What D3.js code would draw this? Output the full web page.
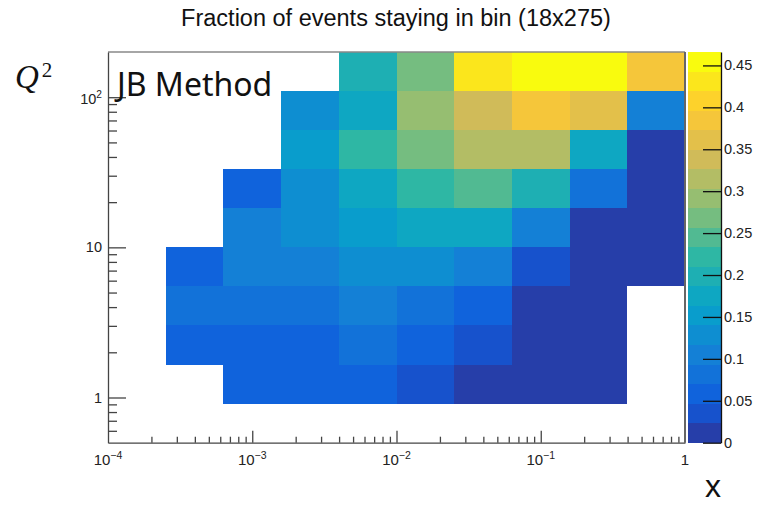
<!DOCTYPE html>
<html>
<head>
<meta charset="utf-8">
<script src="https://cdn.jsdelivr.net/npm/d3@7"></script>
<style>
  body { margin: 0; background: #fff; }
  svg { display: block; }
</style>
</head>
<body>
<svg id="chart" width="757" height="505"></svg>
<script>
// bin edges (10 log bins on each axis)
const xEdges = [1e-4, 2.512e-4, 6.31e-4, 1.585e-3, 3.981e-3, 1e-2, 2.512e-2, 6.31e-2, 0.1585, 0.3981, 1];
const yEdges = [0.5, 0.9103, 1.657, 3.017, 5.493, 10, 18.2, 33.14, 60.34, 109.8, 200];

// fraction per bin, one array per Q2 row (bottom row first), null = empty bin
const row0 = [null, null, null, null, null, null, null, null, null, null];
const row1 = [null, null, 0.06, 0.06, 0.06, 0.035, 0.01, 0.01, 0.01, null];
const row2 = [null, 0.06, 0.06, 0.06, 0.08, 0.06, 0.035, 0.01, 0.01, null];
const row3 = [null, 0.08, 0.08, 0.08, 0.105, 0.08, 0.06, 0.01, 0.01, null];
const row4 = [null, 0.06, 0.105, 0.105, 0.13, 0.13, 0.105, 0.035, 0.01, 0.01];
const row5 = [null, null, 0.105, 0.13, 0.15, 0.175, 0.175, 0.105, 0.01, 0.01];
const row6 = [null, null, 0.06, 0.13, 0.175, 0.22, 0.245, 0.2, 0.08, 0.01];
const row7 = [null, null, null, 0.15, 0.22, 0.27, 0.315, 0.315, 0.175, 0.01];
const row8 = [null, null, null, 0.13, 0.175, 0.29, 0.34, 0.385, 0.36, 0.105];
const row9 = [null, null, null, null, 0.2, 0.27, 0.43, 0.455, 0.455, 0.385];
const rows = [row0, row1, row2, row3, row4, row5, row6, row7, row8, row9];

const xTicks = [1e-4, 1e-3, 1e-2, 1e-1, 1];
const xTickLabels = ["10^{-4}", "10^{-3}", "10^{-2}", "10^{-1}", "1"];
const yTicks = [1, 10, 100];
const yTickLabels = ["1", "10", "10^{2}"];
const zTicks = [0, 0.05, 0.1, 0.15, 0.2, 0.25, 0.3, 0.35, 0.4, 0.45];
const zTickLabels = ["0", "0.05", "0.1", "0.15", "0.2", "0.25", "0.3", "0.35", "0.4", "0.45"];
const zMax = 0.466;
const nLevels = 20;

const title = "Fraction of events staying in bin (18x275)";

// ROOT kBird palette
const birdStops = [0, 0.125, 0.25, 0.375, 0.5, 0.625, 0.75, 0.875, 1];
const birdR = [0.2082, 0.0592, 0.0780, 0.0232, 0.1802, 0.5301, 0.8186, 0.9956, 0.9764];
const birdG = [0.1664, 0.3599, 0.5041, 0.6419, 0.7178, 0.7492, 0.7328, 0.7862, 0.9832];
const birdB = [0.5293, 0.8684, 0.8385, 0.7914, 0.6425, 0.4662, 0.3499, 0.1968, 0.0539];
const bird = d3.scaleLinear()
  .domain(birdStops)
  .range(birdStops.map((s, i) => d3.rgb(birdR[i] * 255, birdG[i] * 255, birdB[i] * 255)))
  .interpolate(d3.interpolateRgb);
const levelOf = v => Math.min(nLevels - 1, Math.floor(v / zMax * nLevels));
const levelColor = l => bird((l + 0.99) / nLevels);

const L = 108, R = 685, T = 52, B = 442.7;
const x = d3.scaleLog().domain([1e-4, 1]).range([L, R]);
const y = d3.scaleLog().domain([0.5, 200]).range([B, T]);
const z = d3.scaleLinear().domain([0, zMax]).range([B, T]);

const svg = d3.select("#chart");
const font = "'Liberation Sans', Arial, Helvetica, sans-serif";

// cells
const cells = [];
rows.forEach((r, j) => r.forEach((v, i) => { if (v != null) cells.push({ i, j, v }); }));
svg.append("g")
  .attr("shape-rendering", "crispEdges")
  .selectAll("rect")
  .data(cells)
  .join("rect")
    .attr("x", d => x(xEdges[d.i]))
    .attr("y", d => y(yEdges[d.j + 1]))
    .attr("width", d => x(xEdges[d.i + 1]) - x(xEdges[d.i]))
    .attr("height", d => y(yEdges[d.j]) - y(yEdges[d.j + 1]))
    .attr("fill", d => levelColor(levelOf(d.v)));

// frame
svg.append("line").attr("x1", L).attr("x2", R).attr("y1", T).attr("y2", T)
  .attr("stroke", "#888").attr("stroke-width", 1.5);
svg.append("line").attr("x1", R).attr("x2", R).attr("y1", T).attr("y2", B)
  .attr("stroke", "#666").attr("stroke-width", 2);

// minor ticks
const minors = (lo, hi) => {
  const out = [];
  for (let e = Math.floor(Math.log10(lo)) - 1; e <= Math.ceil(Math.log10(hi)); e++)
    for (let k = 2; k <= 9; k++) {
      const v = k * Math.pow(10, e);
      if (v > lo * 1.0001 && v < hi * 0.9999) out.push(v);
    }
  return out;
};

const axStyle = g => {
  g.selectAll("path, line").attr("stroke", "#444").attr("stroke-width", 1.3);
  g.selectAll("text").remove();
};

svg.append("g").attr("transform", `translate(0,${B})`)
  .call(d3.axisTop(x).tickValues(minors(1e-4, 1)).tickSize(6).tickSizeOuter(0))
  .call(axStyle);
svg.append("g").attr("transform", `translate(0,${B})`)
  .call(d3.axisTop(x).tickValues(xTicks.slice(1, -1)).tickSize(12).tickSizeOuter(0))
  .call(axStyle).select(".domain").remove();

svg.append("g").attr("transform", `translate(${L},0)`)
  .call(d3.axisRight(y).tickValues(minors(0.5, 200)).tickSize(9).tickSizeOuter(0))
  .call(axStyle);
svg.append("g").attr("transform", `translate(${L},0)`)
  .call(d3.axisRight(y).tickValues(yTicks).tickSize(18).tickSizeOuter(0))
  .call(axStyle).select(".domain").remove();

// ROOT-like labels with superscripts
const putLabel = (sel, s, baseSize) => {
  const m = s.match(/^(.*)\^\{(.*)\}$/);
  if (!m) { sel.text(s); return; }
  sel.append("tspan").text(m[1]);
  sel.append("tspan").text(m[2].replace("-", "\u2212"))
    .attr("font-size", baseSize * 0.7).attr("dy", -baseSize * 0.42);
};

xTicks.forEach((v, i) => {
  const t = svg.append("text")
    .attr("x", x(v)).attr("y", 465)
    .attr("text-anchor", "middle")
    .attr("font-family", font).attr("font-size", 15).attr("fill", "#222");
  putLabel(t, xTickLabels[i], 15);
});

yTicks.forEach((v, i) => {
  const hasExp = yTickLabels[i].includes("^");
  const t = svg.append("text")
    .attr("x", 102).attr("y", y(v) + (hasExp ? 7 : 5))
    .attr("text-anchor", "end")
    .attr("font-family", font).attr("font-size", 14.5).attr("fill", "#222");
  putLabel(t, yTickLabels[i], 14.5);
});

// color bar
const cbL = 687.5, cbR = 721;
svg.append("g")
  .attr("shape-rendering", "crispEdges")
  .selectAll("rect")
  .data(d3.range(nLevels))
  .join("rect")
    .attr("x", cbL)
    .attr("y", l => z((l + 1) * zMax / nLevels))
    .attr("width", cbR - cbL)
    .attr("height", l => z(l * zMax / nLevels) - z((l + 1) * zMax / nLevels))
    .attr("fill", l => levelColor(l));

const zAxis = svg.append("g").attr("transform", `translate(${cbR},0)`)
  .call(d3.axisLeft(z).tickValues(zTicks).tickSize(18).tickSizeOuter(0));
zAxis.selectAll("path, line").attr("stroke", "#111").attr("stroke-width", 1.3);
zAxis.selectAll("text").remove();

svg.append("g").selectAll("text")
  .data(zTicks)
  .join("text")
    .attr("x", 724).attr("y", d => z(d) + 5)
    .attr("font-family", font).attr("font-size", 14.5).attr("fill", "#222")
    .text((d, i) => zTickLabels[i]);

// title and annotations
svg.append("text")
  .attr("x", 396).attr("y", 26)
  .attr("text-anchor", "middle")
  .attr("font-family", font).attr("font-size", 23.5).attr("fill", "#111")
  .text(title);

svg.append("text")
  .attr("x", 117).attr("y", 96)
  .attr("font-family", "'Noto Sans', 'Open Sans', sans-serif").attr("font-size", 32).attr("fill", "#111")
  .text("JB Method");

const q = svg.append("text")
  .attr("x", 15).attr("y", 88)
  .attr("font-family", "'Liberation Serif', serif").attr("font-size", 33).attr("fill", "#111");
q.append("tspan").attr("font-style", "italic").text("Q");
q.append("tspan").attr("font-size", 21).attr("dx", 3).attr("dy", -11).text("2");

svg.append("text")
  .attr("x", 705).attr("y", 497)
  .attr("font-family", font).attr("font-size", 32).attr("fill", "#111")
  .text("x");
</script>
</body>
</html>
